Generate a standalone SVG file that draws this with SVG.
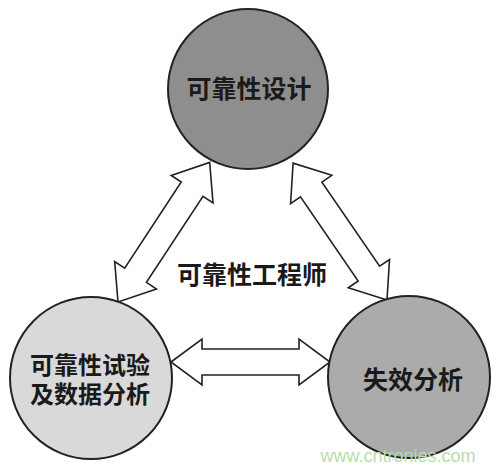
<svg xmlns="http://www.w3.org/2000/svg" width="500" height="471" viewBox="0 0 500 471">
<style>
.node{stroke:#222;stroke-width:2}
.lbl{font-family:"Noto Sans CJK SC","Noto Sans",sans-serif;font-size:25px;font-weight:bold;fill:#1a1a1a;text-anchor:middle}
.lbl2{font-size:24px}
.arr{fill:#fff;stroke:#222;stroke-width:1.6;stroke-linejoin:miter}
.wm{font-family:"Liberation Sans",Arial,sans-serif;font-size:18px;fill:#b9dcb0;text-anchor:middle}
</style>
<rect width="500" height="471" fill="#fff"/>
<g id="connectors">
<path class="arr" transform="translate(118,302) rotate(-56.7)" d="M0,0 L32,-25 L32,-13 L135,-13 L135,-25 L167,0 L135,25 L135,13 L32,13 L32,25 Z"/>
<path class="arr" transform="translate(387,300) rotate(-124.45)" d="M0,0 L32,-25 L32,-13 L134,-13 L134,-25 L166,0 L134,25 L134,13 L32,13 L32,25 Z"/>
<path class="arr" transform="translate(171,362)" d="M0,0 L31,-23 L31,-13 L128,-13 L128,-23 L159,0 L128,23 L128,13 L31,13 L31,23 Z"/>
</g>
<g id="node-design">
<circle class="node" cx="248" cy="89" r="80" fill="#8e8e8e"/>
<text class="lbl" x="249" y="98">可靠性设计</text>
</g>
<g id="node-test">
<circle class="node" cx="91" cy="378" r="81" fill="#d9d9d9"/>
<text class="lbl lbl2" x="90" y="374">可靠性试验</text>
<text class="lbl lbl2" x="90" y="403">及数据分析</text>
</g>
<g id="node-failure">
<circle class="node" cx="409" cy="377" r="81" fill="#ababab"/>
<text class="lbl" x="413" y="389">失效分析</text>
</g>
<g id="center-label">
<text class="lbl" x="252" y="284">可靠性工程师</text>
</g>
<text class="wm" x="398" y="462">www.cntronies.com</text>
</svg>
